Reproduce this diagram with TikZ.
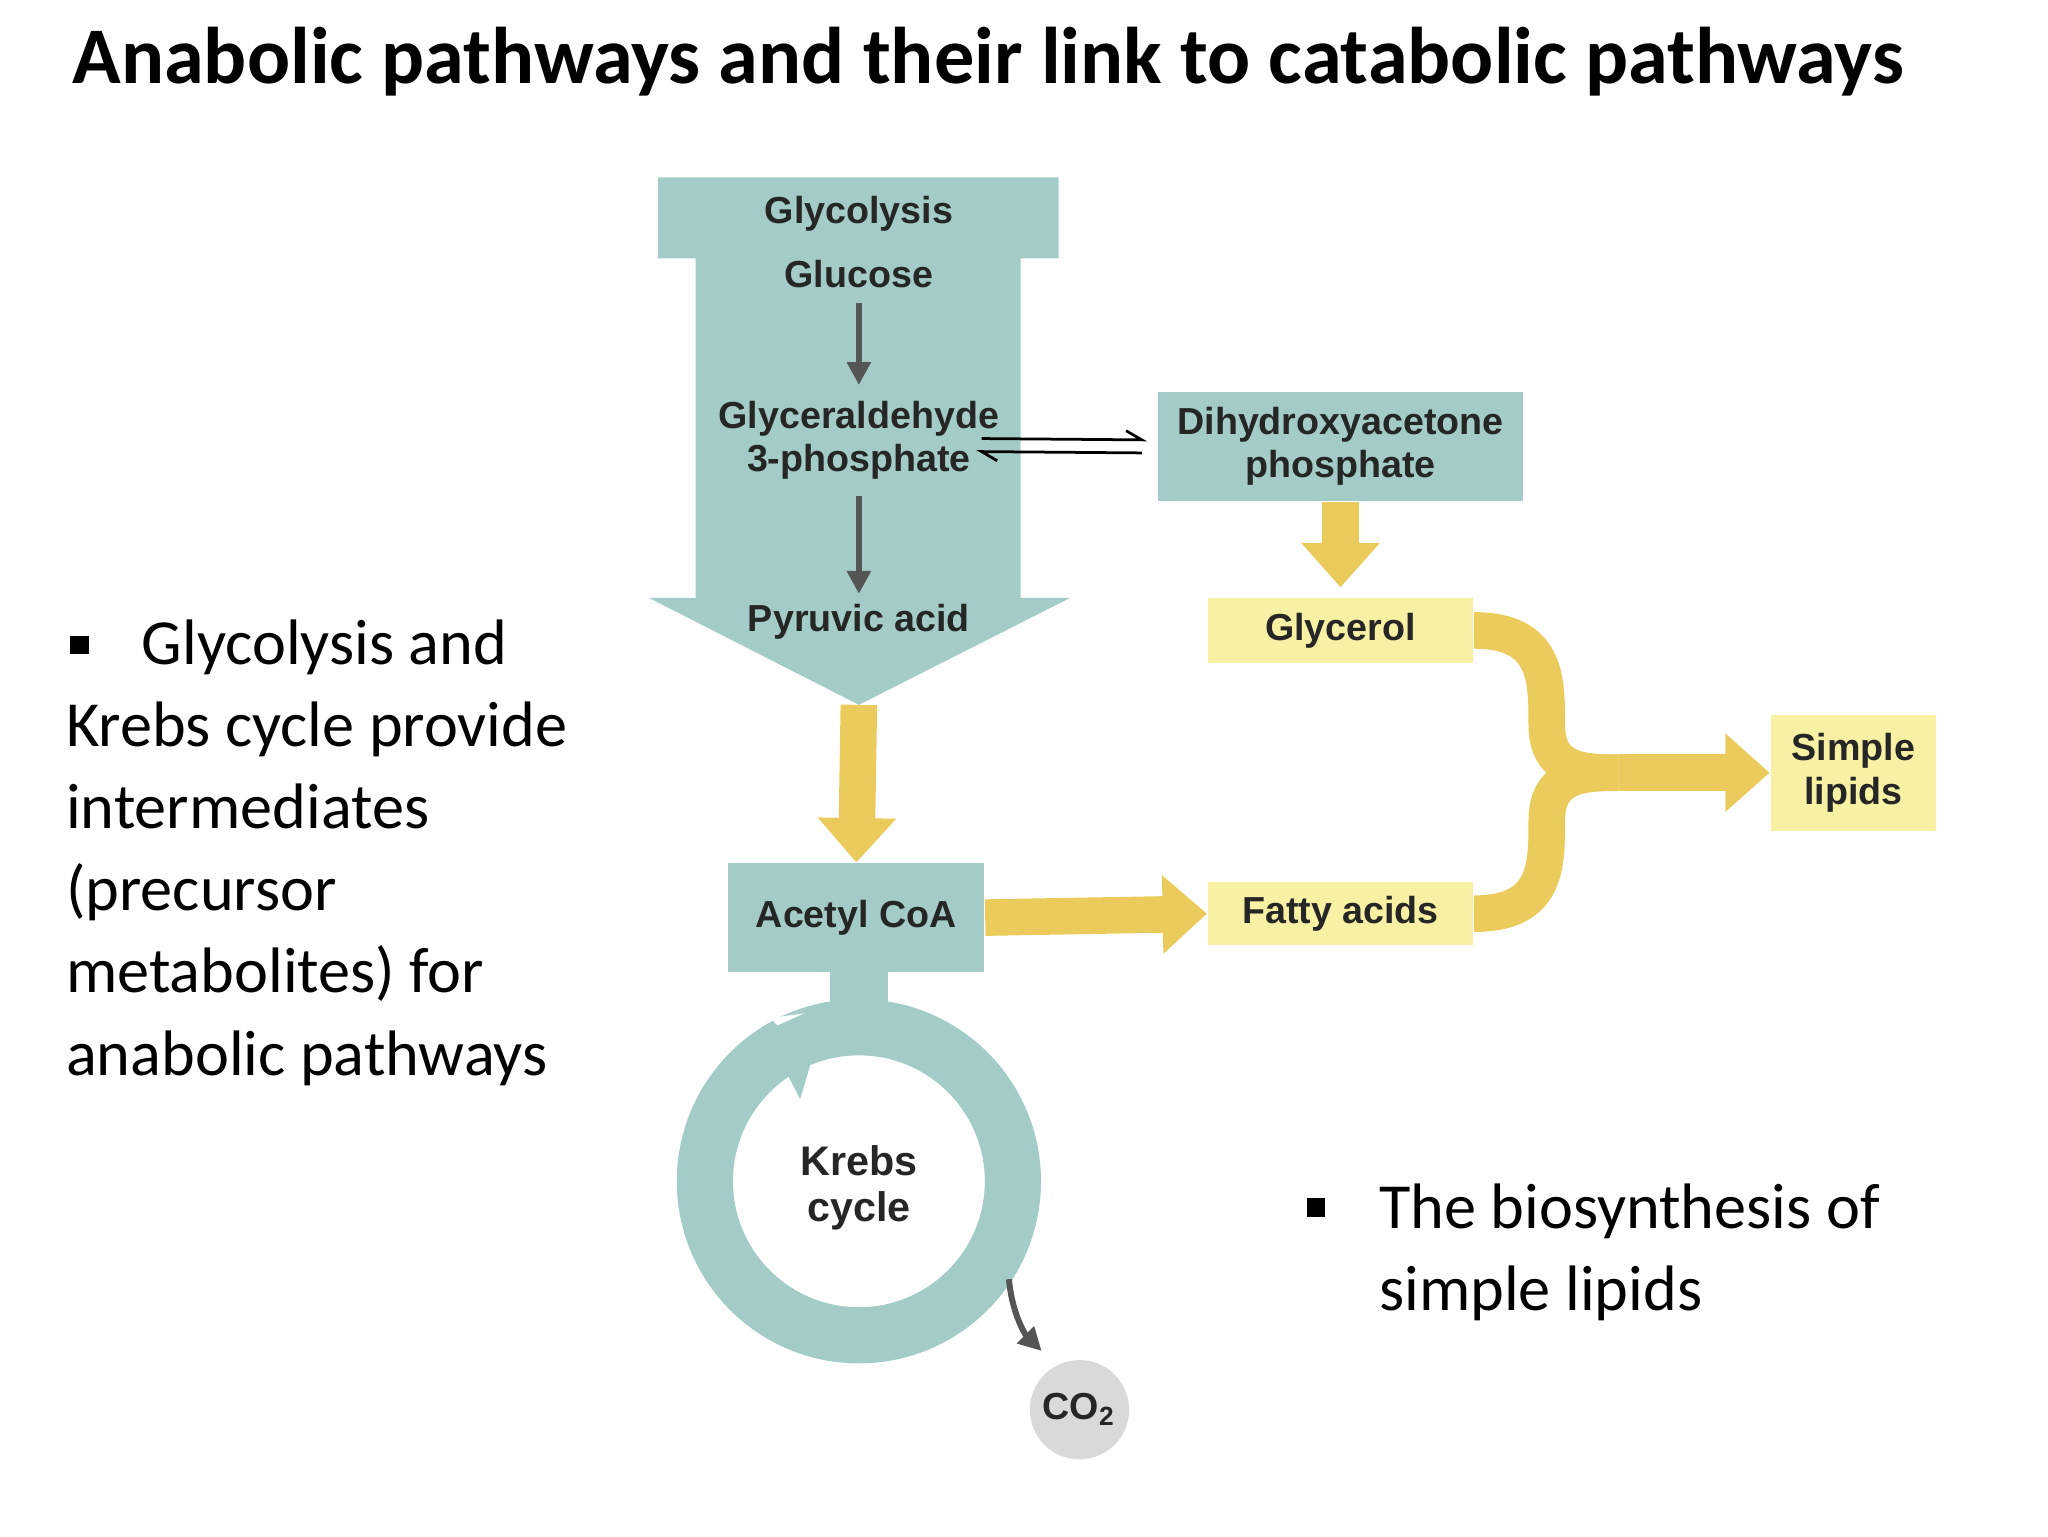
\documentclass[tikz,border=0pt]{standalone}
\usepackage{fontspec}
\setmainfont{Carlito}
\newfontfamily\diagfont{Liberation Sans}
\usetikzlibrary{arrows.meta,calc}
\definecolor{teal}{HTML}{A3CBC8}
\definecolor{ylarrow}{HTML}{EBCB5C}
\definecolor{ylbox}{HTML}{F8F0A2}
\definecolor{darkarrow}{HTML}{555555}
\definecolor{coball}{HTML}{D9D9D9}
\tikzset{
  lbl/.style={font=\diagfont\fontsize{8.2}{9.4}\selectfont\bfseries, align=center, text=black!85},
  tealbox/.style={lbl, fill=teal, inner sep=0pt},
  ylwbox/.style={lbl, fill=ylbox, inner sep=0pt},
  ylw/.style={draw=ylarrow, line width=0.28cm, -{Triangle[width=0.58cm,length=0.34cm]}},
  ylwplain/.style={draw=ylarrow, line width=0.28cm},
  rxn/.style={draw=darkarrow, line width=1.3pt, -{Triangle[width=5pt,length=5pt]}},
  bullettext/.style={font=\fontsize{14}{17.9}\selectfont, align=left, anchor=north west, inner sep=0pt},
  bulletmark/.style={fill=black, minimum size=0.14cm, inner sep=0pt}
}
\begin{document}
\begin{tikzpicture}[x=0.01cm,y=-0.01cm]
  \useasboundingbox (0,0) rectangle (1569,1177);

  % title
  \node[font=\fontsize{17.5}{20}\selectfont\bfseries] (title) at (757,47) {Anabolic pathways and their link to catabolic pathways};

  % glycolysis funnel
  \fill[teal] (504,136) -- (811,136) -- (811,198) -- (782,198) -- (782,458) -- (820,458)
    -- (658,540) -- (497,458) -- (533,458) -- (533,198) -- (504,198) -- cycle;
  \node[lbl] (glyc) at (658,164) {Glycolysis};
  \node[lbl] (glucose) at (658,210) {Glucose};
  \node[lbl] (g3p) at (658,337) {Glyceraldehyde\\3-phosphate};
  \node[lbl] (pyr) at (658,476) {Pyruvic acid};
  \draw[rxn] (658,232) -- (658,295);
  \draw[rxn] (658,380) -- (658,455);

  % dihydroxyacetone
  \node[tealbox, minimum width=2.79cm, minimum height=0.83cm] (dhap) at (1027,342) {Dihydroxyacetone\\phosphate};
  \coordinate (hl) at (752,341);
  \draw[line width=0.6pt] (hl) ++(0,-5) -- ($(dhap.west)+(-12,-5)$) -- ++(-12,-7);
  \draw[line width=0.6pt] ($(dhap.west)+(-12,5)$) -- ($(hl)+(0,5)$) -- ++(12,7);

  % glycerol
  \node[ylwbox, minimum width=2.03cm, minimum height=0.5cm] (glycerol) at (1027,483) {Glycerol};
  \draw[ylw] (dhap.south) -- (1027,450);

  % acetyl CoA
  \node[tealbox, minimum width=1.96cm, minimum height=0.83cm] (acoa) at (656,703) {Acetyl CoA};
  \draw[ylw] (658,540) -- (acoa.north);

  % fatty acids
  \node[ylwbox, minimum width=2.03cm, minimum height=0.48cm] (fatty) at (1027,700) {Fatty acids};
  \draw[ylw] (acoa.east) -- (fatty.west);

  % simple lipids
  \node[ylwbox, minimum width=1.27cm, minimum height=0.89cm] (lipids) at (1420,592) {Simple\\lipids};
  \coordinate (merge) at (1240,592);
  \draw[ylwplain] (glycerol.east) .. controls (1185,483) and (1185,520) .. (1185,555)
    .. controls (1185,590) and (1210,592) .. (merge);
  \draw[ylwplain] (fatty.east) .. controls (1185,700) and (1185,664) .. (1185,629)
    .. controls (1185,594) and (1210,592) .. (merge);
  \draw[ylw] (merge) -- (lipids.west);

  % krebs cycle
  \fill[teal] (636,745) rectangle (680,800);
  \draw[teal, line width=0.43cm] (658,905) circle[radius=118];
  \fill[white] (590,780) -- (625,775) -- (620,810) -- cycle;
  \fill[teal] (586,790) -- (635,768) -- (613,842) -- cycle;
  \node[lbl, font=\diagfont\fontsize{9}{10}\selectfont\bfseries] (krebs) at (658,910) {Krebs\\cycle};

  % CO2
  \node[circle, fill=coball, minimum size=0.76cm, inner sep=0pt, lbl] (co2) at (827,1080) {CO\textsubscript{2}};
  \draw[rxn] (773,980) .. controls (775,1005) and (785,1022) .. (798,1035);

  % bullets
  \node[bulletmark] (b1) at (61,494) {};
  \node[bullettext] (t1) at (50,474) {\hspace*{0.58cm}Glycolysis and\\Krebs cycle provide\\intermediates\\(precursor\\metabolites) for\\anabolic pathways};
  \node[bulletmark] (b2) at (1008,925) {};
  \node[bullettext] (t2) at (1056,906) {The biosynthesis of\\simple lipids};
\end{tikzpicture}
\end{document}
